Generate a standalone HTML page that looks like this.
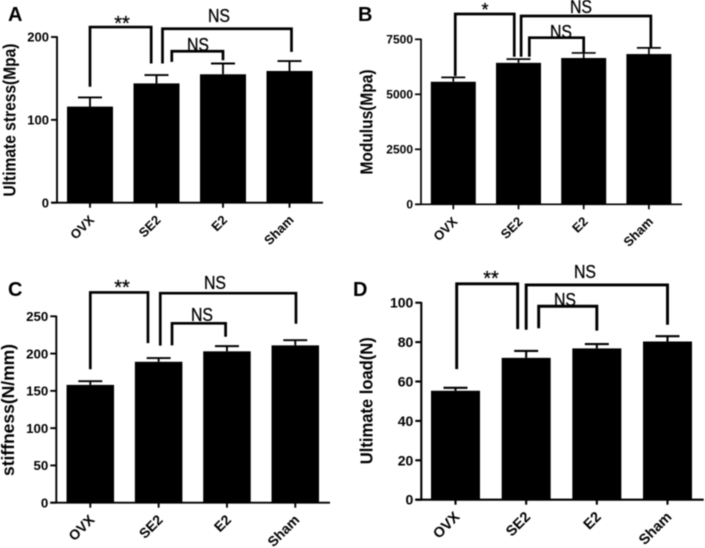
<!DOCTYPE html>
<html>
<head>
<meta charset="utf-8">
<style>
html,body{margin:0;padding:0;background:#fff;width:705px;height:548px;overflow:hidden}
svg{display:block;filter:blur(0.45px)}
text{font-family:"Liberation Sans",sans-serif;fill:#000}
</style>
</head>
<body>
<svg id="figure" width="705" height="548" viewBox="0 0 705 548" xmlns="http://www.w3.org/2000/svg"></svg>
<script>
const categories = ['OVX', 'SE2', 'E2', 'Sham'];

const valuesA = [116, 144, 155, 159];
const errorTopsA = [127, 154, 168, 171];
const ticksA = [0, 100, 200];

const valuesB = [5570, 6430, 6650, 6830];
const errorTopsB = [5770, 6600, 6880, 7110];
const ticksB = [0, 2500, 5000, 7500];

const valuesC = [158, 189, 203, 211];
const errorTopsC = [163, 194, 210, 218];
const ticksC = [0, 50, 100, 150, 200, 250];

const valuesD = [55.3, 72, 76.8, 80.3];
const errorTopsD = [56.8, 75.5, 79, 83];
const ticksD = [0, 20, 40, 60, 80, 100];

const svg = document.getElementById('figure');
const NS = 'http://www.w3.org/2000/svg';

function make(tag, attrs, parent, txt) {
  const el = document.createElementNS(NS, tag);
  for (const k in attrs) el.setAttribute(k, attrs[k]);
  if (txt !== undefined) el.textContent = txt;
  parent.appendChild(el);
  return el;
}

function drawPanel(p, values, errorTops, ticks) {
  const g = make('g', {}, svg);
  
  

  const yScale = v => p.y0 - (v / p.yMax) * (p.y0 - p.yTop);
  const xScale = i => p.x0 + i * p.step;

  const letter = make('text', {x: p.letterX, y: p.letterY, 'font-size': 20, 'font-weight': 'bold'}, g, p.id);
  
  

  const title = make('text', {
    transform: `translate(${p.titleX},${p.titleY}) rotate(-90)`,
    'text-anchor': 'middle', 'font-size': p.titleSize, 'font-weight': 'bold',
    textLength: p.titleLen, lengthAdjust: 'spacingAndGlyphs'
  }, g, p.title);
  
  

  values.forEach((v, i) => {
    const cx = xScale(i);
    const bar = make('rect', {x: cx - p.barW / 2, y: yScale(v), width: p.barW, height: p.y0 - yScale(v), fill: '#000'}, g);
    
    

    const stem = make('line', {x1: cx, x2: cx, y1: yScale(v), y2: yScale(errorTops[i]), stroke: '#000', 'stroke-width': p.sw}, g);
    
    

    const cap = make('line', {x1: cx - 12, x2: cx + 12, y1: yScale(errorTops[i]), y2: yScale(errorTops[i]), stroke: '#000', 'stroke-width': p.sw}, g);
    
    
  });

  const yAxis = make('line', {x1: p.axisX, x2: p.axisX, y1: yScale(ticks[ticks.length - 1]) - 0.7, y2: p.y0 + 0.7, stroke: '#000', 'stroke-width': p.sw}, g);
  
  

  const xAxis = make('line', {x1: p.axisX - 6, x2: p.axisEnd, y1: p.y0, y2: p.y0, stroke: '#000', 'stroke-width': p.sw}, g);
  
  

  ticks.forEach(t => {
    const ty = yScale(t);
    const tick = make('line', {x1: p.axisX - 6, x2: p.axisX, y1: ty, y2: ty, stroke: '#000', 'stroke-width': p.sw}, g);
    
    

    const label = make('text', {x: p.axisX - 8, y: ty + p.tickSize * 0.36, 'text-anchor': 'end', 'font-size': p.tickSize, 'font-weight': 'bold'}, g, String(t));
    
    
  });

  categories.forEach((c, i) => {
    const cx = xScale(i);
    const tick = make('line', {x1: cx, x2: cx, y1: p.y0, y2: p.y0 + 5, stroke: '#000', 'stroke-width': p.sw}, g);
    
    

    const label = make('text', {
      transform: `translate(${cx + 5},${p.y0 + 18}) rotate(-45)`,
      'text-anchor': 'end', 'font-size': p.catSize, 'font-weight': 'bold'
    }, g, c);
    
    
  });

  p.brackets.forEach(b => {
    const xa = xScale(b.from), xb = xScale(b.to), top = yScale(b.top);
    const path = make('path', {
      d: `M${xa} ${yScale(b.fromY)}V${top}H${xb}V${yScale(b.toY)}`,
      fill: 'none', stroke: '#000', 'stroke-width': p.bw
    }, g);
    
    
  });

  p.notes.forEach(n => {
    const attrs = {x: n.x, y: n.y, 'text-anchor': 'middle', 'font-size': n.size, stroke: '#000', 'stroke-width': 0.25};
    if (n.t === 'NS') { attrs.textLength = 22; attrs.lengthAdjust = 'spacingAndGlyphs'; }
    const note = make('text', attrs, g, n.t);
    
    
  });
}

drawPanel({
  id: 'A', letterX: 8, letterY: 21, title: 'Ultimate stress(Mpa)', titleX: 15.5, titleY: 120, titleSize: 17.5, titleLen: 153,
  x0: 90, step: 66.5, barW: 46, axisX: 57, axisEnd: 323, y0: 202.7, yTop: 37, yMax: 200, tickSize: 13, catSize: 13, sw: 1.9, bw: 2.7,
  brackets: [
    {from: 0, fromY: 140, top: 212, to: 0.92, toY: 168},
    {from: 1.09, fromY: 168, top: 210, to: 3.03, toY: 182},
    {from: 1.23, fromY: 170, top: 182.8, to: 2.0, toY: 172}
  ],
  notes: [
    {t: '**', x: 122, y: 30, size: 20},
    {t: 'NS', x: 219, y: 22, size: 18},
    {t: 'NS', x: 198, y: 51, size: 18}
  ]
}, valuesA, errorTopsA, ticksA);

drawPanel({
  id: 'B', letterX: 358, letterY: 21, title: 'Modulus(Mpa)', titleX: 372.5, titleY: 122, titleSize: 17.5, titleLen: 105,
  x0: 453.3, step: 65.2, barW: 45, axisX: 421, axisEnd: 682, y0: 204.3, yTop: 39.3, yMax: 7500, tickSize: 12, catSize: 13, sw: 1.7, bw: 2.7,
  brackets: [
    {from: 0.03, fromY: 5832, top: 8650, to: 0.935, toY: 6709},
    {from: 1.04, fromY: 6709, top: 8559, to: 3.03, toY: 7091},
    {from: 1.166, fromY: 6709, top: 7573, to: 2.0, toY: 6891}
  ],
  notes: [
    {t: '*', x: 485, y: 16, size: 18},
    {t: 'NS', x: 581, y: 13, size: 18},
    {t: 'NS', x: 561, y: 38, size: 18}
  ]
}, valuesB, errorTopsB, ticksB);

drawPanel({
  id: 'C', letterX: 8, letterY: 296, title: 'stiffness(N/mm)', titleX: 14, titleY: 410, titleSize: 17.5, titleLen: 132,
  x0: 90.3, step: 68.33, barW: 47.5, axisX: 56.3, axisEnd: 330, y0: 502.7, yTop: 316.3, yMax: 250, tickSize: 13.3, catSize: 14, sw: 1.9, bw: 2.7,
  brackets: [
    {from: 0, fromY: 179, top: 282, to: 0.844, toY: 214},
    {from: 1.024, fromY: 210.6, top: 281, to: 3.01, toY: 240},
    {from: 1.196, fromY: 211, top: 240.6, to: 1.98, toY: 222.6}
  ],
  notes: [
    {t: '**', x: 122, y: 294, size: 20},
    {t: 'NS', x: 215, y: 289, size: 18},
    {t: 'NS', x: 202, y: 321, size: 18}
  ]
}, valuesC, errorTopsC, ticksC);

drawPanel({
  id: 'D', letterX: 353, letterY: 296, title: 'Ultimate load(N)', titleX: 372.5, titleY: 400.7, titleSize: 17.5, titleLen: 127,
  x0: 455.5, step: 70.67, barW: 49, axisX: 421.3, axisEnd: 703.7, y0: 499.7, yTop: 302.7, yMax: 100, tickSize: 14, catSize: 14.5, sw: 2.1, bw: 2.9,
  brackets: [
    {from: 0.017, fromY: 66.3, top: 109.6, to: 0.88, toY: 86.6},
    {from: 1.0, fromY: 86.3, top: 109, to: 3.0, toY: 88.8},
    {from: 1.177, fromY: 87, top: 98.2, to: 2.0, toY: 85.8}
  ],
  notes: [
    {t: '**', x: 491, y: 285, size: 20},
    {t: 'NS', x: 585, y: 278, size: 18},
    {t: 'NS', x: 565, y: 306, size: 18}
  ]
}, valuesD, errorTopsD, ticksD);
</script>
</body>
</html>
